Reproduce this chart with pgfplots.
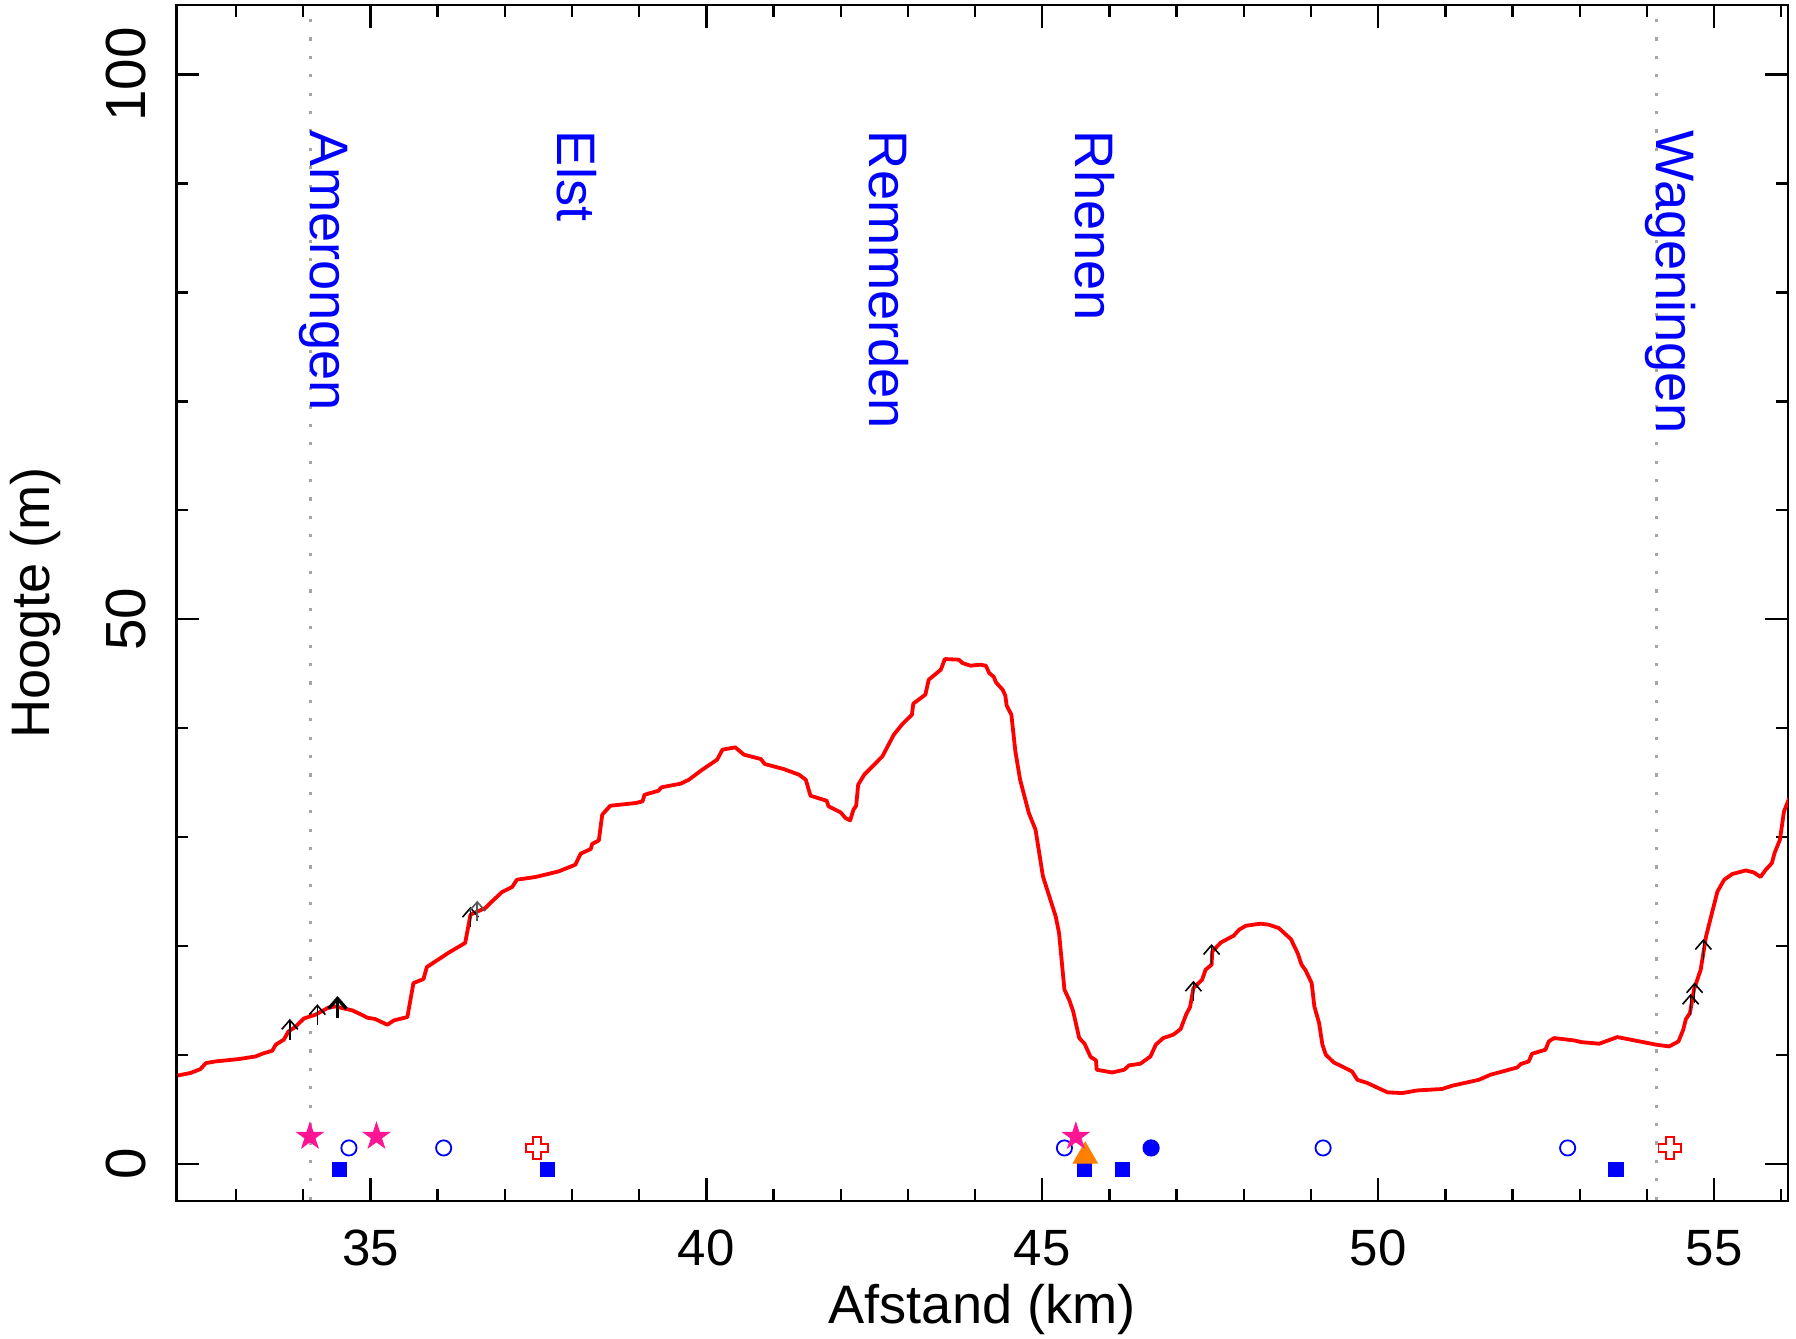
\documentclass[border=0pt]{standalone}
\usepackage{fontspec}
\setmainfont{Liberation Sans}
\usepackage{pgfplots}
\pgfplotsset{compat=1.18}
\usetikzlibrary{arrows.meta}
\definecolor{starpink}{RGB}{255,20,147}
\definecolor{triorange}{RGB}{255,128,0}
\definecolor{dotgray}{RGB}{165,165,165}
\newcommand\tf{\fontsize{13.6}{16}\selectfont}
\newcommand\xtf{\fontsize{12.8}{15}\selectfont}
\newcommand\ytf{\fontsize{14.2}{17}\selectfont}
\pgfdeclareplotmark{fstar}{%
  \pgfpathmoveto{\pgfpointpolar{90}{\pgfplotmarksize}}%
  \pgfpathlineto{\pgfpointpolar{126}{0.382\pgfplotmarksize}}%
  \pgfpathlineto{\pgfpointpolar{162}{\pgfplotmarksize}}%
  \pgfpathlineto{\pgfpointpolar{198}{0.382\pgfplotmarksize}}%
  \pgfpathlineto{\pgfpointpolar{234}{\pgfplotmarksize}}%
  \pgfpathlineto{\pgfpointpolar{270}{0.382\pgfplotmarksize}}%
  \pgfpathlineto{\pgfpointpolar{306}{\pgfplotmarksize}}%
  \pgfpathlineto{\pgfpointpolar{342}{0.382\pgfplotmarksize}}%
  \pgfpathlineto{\pgfpointpolar{18}{\pgfplotmarksize}}%
  \pgfpathlineto{\pgfpointpolar{54}{0.382\pgfplotmarksize}}%
  \pgfpathclose
  \pgfusepathqfillstroke}
\pgfdeclareplotmark{ocross}{%
  \pgfpathmoveto{\pgfqpoint{0.36\pgfplotmarksize}{\pgfplotmarksize}}%
  \pgfpathlineto{\pgfqpoint{0.36\pgfplotmarksize}{0.36\pgfplotmarksize}}%
  \pgfpathlineto{\pgfqpoint{\pgfplotmarksize}{0.36\pgfplotmarksize}}%
  \pgfpathlineto{\pgfqpoint{\pgfplotmarksize}{-0.36\pgfplotmarksize}}%
  \pgfpathlineto{\pgfqpoint{0.36\pgfplotmarksize}{-0.36\pgfplotmarksize}}%
  \pgfpathlineto{\pgfqpoint{0.36\pgfplotmarksize}{-\pgfplotmarksize}}%
  \pgfpathlineto{\pgfqpoint{-0.36\pgfplotmarksize}{-\pgfplotmarksize}}%
  \pgfpathlineto{\pgfqpoint{-0.36\pgfplotmarksize}{-0.36\pgfplotmarksize}}%
  \pgfpathlineto{\pgfqpoint{-\pgfplotmarksize}{-0.36\pgfplotmarksize}}%
  \pgfpathlineto{\pgfqpoint{-\pgfplotmarksize}{0.36\pgfplotmarksize}}%
  \pgfpathlineto{\pgfqpoint{-0.36\pgfplotmarksize}{0.36\pgfplotmarksize}}%
  \pgfpathlineto{\pgfqpoint{-0.36\pgfplotmarksize}{\pgfplotmarksize}}%
  \pgfpathclose
  \pgfusepathqfillstroke}
\begin{document}
\begin{tikzpicture}
\begin{axis}[
  scale only axis, width=402.9bp, height=299.1bp,
  xmin=32.112, xmax=56.10, ymin=-3.44, ymax=106.41,
  axis line style={line width=0.6bp},
  every tick/.style={black, line width=0.6bp},
  major tick length=5.75bp, minor tick length=3bp,
  tick align=inside,
  xtick={35,40,45,50,55}, minor xtick={33,34,...,56},
  ytick={0,50,100}, minor ytick={10,20,30,40,60,70,80,90},
  /pgf/number format/assume math mode=true,
  xticklabel style={font=\xtf, anchor=north, inner sep=0pt, yshift=-7bp},
  yticklabel style={font=\ytf, rotate=90, anchor=south, inner sep=0pt, yshift=7.5bp},
  xlabel={Afstand (km)}, ylabel={Hoogte (m)},
  label style={font=\tf},
  xlabel style={at={(axis description cs:0.5,0)}, anchor=north, inner sep=0pt, yshift=-20.6bp},
  ylabel style={at={(axis description cs:0,0.5)}, anchor=base, inner sep=0pt, yshift=31.75bp},
]
\coordinate (bl) at (rel axis cs:0,0);
\coordinate (tr) at (rel axis cs:1,1);
% dotted town lines
\addplot[dotgray, line width=0.75bp, dash pattern=on 0.8bp off 3.8bp] coordinates {(34.107,-5) (34.107,110)};
\addplot[dotgray, line width=0.75bp, dash pattern=on 0.8bp off 3.8bp] coordinates {(54.14,-5) (54.14,110)};
% elevation profile
\addplot[red, line width=0.95bp, line join=round] table {
x y
32.13 8.1
32.32 8.33
32.47 8.69
32.55 9.24
32.69 9.39
33.04 9.61
33.29 9.85
33.39 10.1
33.54 10.38
33.59 10.93
33.71 11.39
33.78 12.15
33.88 12.55
34.01 13.34
34.18 13.68
34.38 14.35
34.48 14.44
34.73 14.08
34.90 13.59
34.95 13.41
35.07 13.29
35.25 12.76
35.35 13.16
35.55 13.47
35.64 16.59
35.79 16.96
35.84 18.06
36.17 19.4
36.41 20.27
36.49 22.87
36.71 23.48
36.81 24.09
36.96 24.95
37.11 25.41
37.18 26.08
37.46 26.33
37.80 26.84
38.05 27.46
38.13 28.47
38.28 28.9
38.30 29.36
38.40 29.69
38.45 32.05
38.57 32.87
38.95 33.12
39.05 33.27
39.08 33.88
39.29 34.25
39.33 34.56
39.62 34.9
39.74 35.26
39.94 36.18
40.16 37.1
40.24 38.02
40.43 38.23
40.56 37.56
40.81 37.16
40.87 36.7
41.15 36.24
41.38 35.72
41.48 35.26
41.55 33.79
41.79 33.33
41.82 32.81
42.00 32.26
42.07 31.74
42.14 31.52
42.19 32.51
42.23 32.87
42.26 34.8
42.35 35.72
42.62 37.4
42.79 39.39
42.92 40.38
43.06 41.23
43.08 42.24
43.26 43.07
43.31 44.44
43.49 45.36
43.55 46.34
43.76 46.28
43.81 45.98
43.93 45.73
44.08 45.82
44.16 45.73
44.21 45.06
44.28 44.69
44.31 44.2
44.41 43.53
44.45 42.98
44.47 42.08
44.54 41.23
44.60 37.86
44.67 35.26
44.80 32.2
44.90 30.67
45.01 26.38
45.20 22.71
45.25 21.18
45.33 15.98
45.40 15.06
45.46 13.99
45.55 11.54
45.63 11.02
45.72 9.8
45.80 9.49
45.81 8.63
46.04 8.38
46.22 8.63
46.29 9.03
46.46 9.18
46.61 9.85
46.69 10.93
46.80 11.54
46.95 11.85
47.06 12.37
47.14 13.68
47.20 14.39
47.25 16.13
47.38 16.9
47.43 17.81
47.52 18.27
47.53 19.49
47.66 20.32
47.85 20.94
47.93 21.49
48.03 21.85
48.25 22.04
48.37 21.95
48.52 21.64
48.70 20.63
48.80 19.35
48.86 18.27
48.92 17.75
49.01 16.59
49.05 14.44
49.12 12.92
49.17 10.93
49.22 10.01
49.34 9.3
49.61 8.48
49.69 7.71
49.84 7.41
50.14 6.55
50.36 6.49
50.58 6.73
50.95 6.86
51.10 7.16
51.50 7.71
51.67 8.17
51.82 8.42
52.07 8.84
52.12 9.15
52.24 9.39
52.29 10.1
52.49 10.47
52.54 11.23
52.62 11.54
52.92 11.32
53.02 11.17
53.29 11.02
53.56 11.63
54.14 10.93
54.33 10.77
54.47 11.23
54.54 12.3
54.58 13.28
54.64 13.83
54.70 15.98
54.80 17.81
54.88 20.87
54.98 23.32
55.05 25.0
55.15 26.08
55.27 26.6
55.47 26.93
55.59 26.75
55.69 26.33
55.77 27.0
55.86 27.61
55.90 28.53
55.98 29.75
56.04 32.35
56.12 33.58
};
% arrows
\addplot[black, line width=0.4bp, -{Straight Barb[length=2.3bp,width=4bp]}, quiver={u=0, v=\thisrow{v}}] table {
x y v
33.80 11.4 1.9
34.21 12.7 1.95
36.49 21.7 1.9
47.25 14.9 1.9
47.52 18.27 1.9
54.65 13.7 1.9
54.71 14.75 1.9
54.84 18.73 1.9
};
\addplot[black!65, line width=0.4bp, -{Straight Barb[length=2.3bp,width=4bp]}, quiver={u=0, v=\thisrow{v}}] table {
x y v
36.59 22.25 1.9
};
\addplot[black, line width=0.85bp, -{Straight Barb[length=2.5bp,width=4.4bp]}, quiver={u=0, v=\thisrow{v}}] table {
x y v
34.51 13.4 2.0
};
% markers
\addplot[only marks, mark=square*, mark size=1.75bp, blue, mark options={line width=0.3bp}] coordinates {
(34.54,-0.55) (37.64,-0.55) (45.63,-0.55) (46.19,-0.55) (53.54,-0.55)};
\addplot[only marks, mark=o, mark size=1.9bp, blue, mark options={line width=0.45bp}] coordinates {
(34.68,1.45) (36.09,1.45) (45.33,1.45) (49.18,1.45) (52.82,1.45)};
\addplot[only marks, mark=*, mark size=2bp, blue, mark options={line width=0.3bp}] coordinates {
(46.62,1.45)};
\addplot[only marks, mark=ocross, mark size=2.8bp, red, mark options={fill=white, line width=0.45bp}] coordinates {
(37.48,1.45) (54.34,1.45)};
\addplot[only marks, mark=triangle*, mark size=3.5bp, triorange, mark options={line width=0.2bp}] coordinates {
(45.64,0.7)};
\addplot[only marks, mark=fstar, mark size=3.5bp, starpink, mark options={line width=0.2bp}] coordinates {
(34.10,2.5) (35.09,2.5) (45.50,2.5)};
% town names
\node[anchor=base west, rotate=-90, inner sep=0pt, text=blue, font=\tf] at (axis cs:34.107,94.9) {Amerongen};
\node[anchor=base west, rotate=-90, inner sep=0pt, text=blue, font=\tf] at (axis cs:37.78,94.9) {Elst};
\node[anchor=base west, rotate=-90, inner sep=0pt, text=blue, font=\tf] at (axis cs:42.43,94.9) {Remmerden};
\node[anchor=base west, rotate=-90, inner sep=0pt, text=blue, font=\tf] at (axis cs:45.50,94.9) {Rhenen};
\node[anchor=base west, rotate=-90, inner sep=0pt, text=blue, font=\tf] at (axis cs:54.14,94.9) {Wageningen};
\end{axis}
\pgfresetboundingbox
\path[use as bounding box] ([shift={(-44.1bp,-34.25bp)}]bl) rectangle ([shift={(2bp,1.2bp)}]tr);
\end{tikzpicture}
\end{document}
